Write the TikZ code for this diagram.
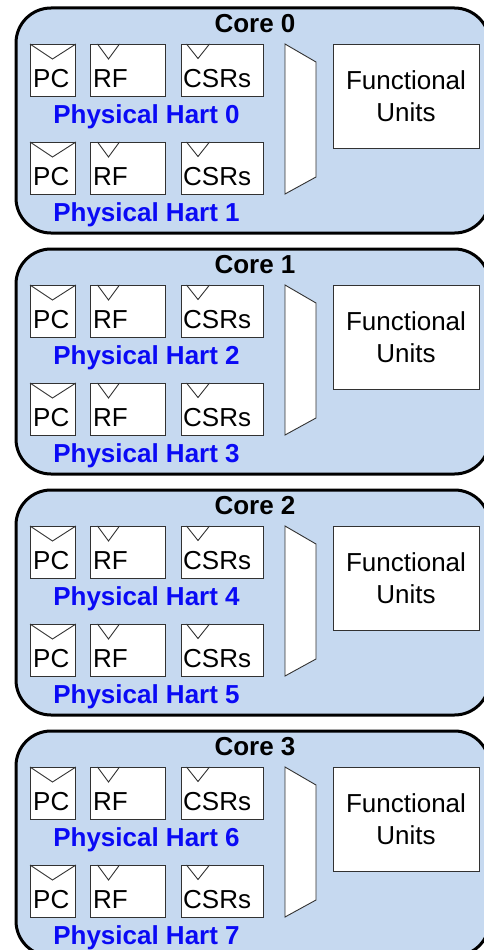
\documentclass[tikz,border=0pt]{standalone}
\usepackage{fontspec}
\setmainfont{Liberation Sans}
\definecolor{corefill}{RGB}{198,217,240}
\definecolor{hartblue}{RGB}{10,10,245}
\definecolor{thinline}{RGB}{50,50,50}
\begin{document}
\begin{tikzpicture}[x=1pt,y=-1pt,
  font=\fontsize{26}{32}\selectfont,
  corebox/.style={draw=black, line width=3pt, fill=corefill, rounded corners=35pt, inner sep=0pt, anchor=north west},
  regbox/.style={draw=thinline, line width=0.9pt, fill=white, inner sep=0pt, anchor=north west},
  notchline/.style={draw=thinline, line width=0.9pt},
  regtext/.style={anchor=base west, inner sep=0pt},
  hartlabel/.style={anchor=base, inner sep=0pt, text=hartblue, font=\fontsize{26}{32}\selectfont\bfseries},
  corelabel/.style={anchor=base, inner sep=0pt, font=\fontsize{26}{32}\selectfont\bfseries}]
\useasboundingbox (0,0) rectangle (484,950);
\clip (0,0) rectangle (484,950);
\foreach \c in {0,1,2,3} {
  \begin{scope}[shift={(0,{241*\c})}]
    \node[corebox, minimum width=473.5pt, minimum height=225pt] (core\c) at (14.5,6.5) {};
    \node[corelabel] (corelbl\c) at (255,32.5) {Core \c};
    \foreach \h in {0,1} {
      \pgfmathsetmacro\hy{44+98*\h}
      \pgfmathtruncatemacro\hn{2*\c+\h}
      \node[regbox, minimum width=45pt, minimum height=52pt] (pc\c-\h) at (30,\hy) {};
      \node[regbox, minimum width=75pt, minimum height=52pt] (rf\c-\h) at (90,\hy) {};
      \node[regbox, minimum width=82pt, minimum height=52pt] (csr\c-\h) at (181,\hy) {};
      \draw[notchline] (pc\c-\h.north west) -- ++(22.5,15) -- (pc\c-\h.north east);
      \draw[notchline] ([xshift=7.5pt]rf\c-\h.north west) -- ++(11,15) -- ++(11,-15);
      \draw[notchline] ([xshift=5.5pt]csr\c-\h.north west) -- ++(11.5,14.5) -- ++(11.5,-14.5);
      \node[regtext] (pct\c-\h) at (33,{\hy+43}) {PC};
      \node[regtext] (rft\c-\h) at (93,{\hy+43}) {RF};
      \node[regtext] (csrt\c-\h) at (183,{\hy+43}) {CSRs};
      \node[hartlabel] (hart\c-\h) at (146.5,{\hy+79}) {Physical Hart \hn};
    }
    \draw[regbox] (285,44) -- (316,62) -- (316,177) -- (285,194) -- cycle;
    \node[regbox, minimum width=146pt, minimum height=104pt, align=center] (fu\c) at (333,44) {};
    \node[align=center, inner sep=0pt] (fut\c) at (406,96) {Functional\\Units};
  \end{scope}
}
\end{tikzpicture}
\end{document}
